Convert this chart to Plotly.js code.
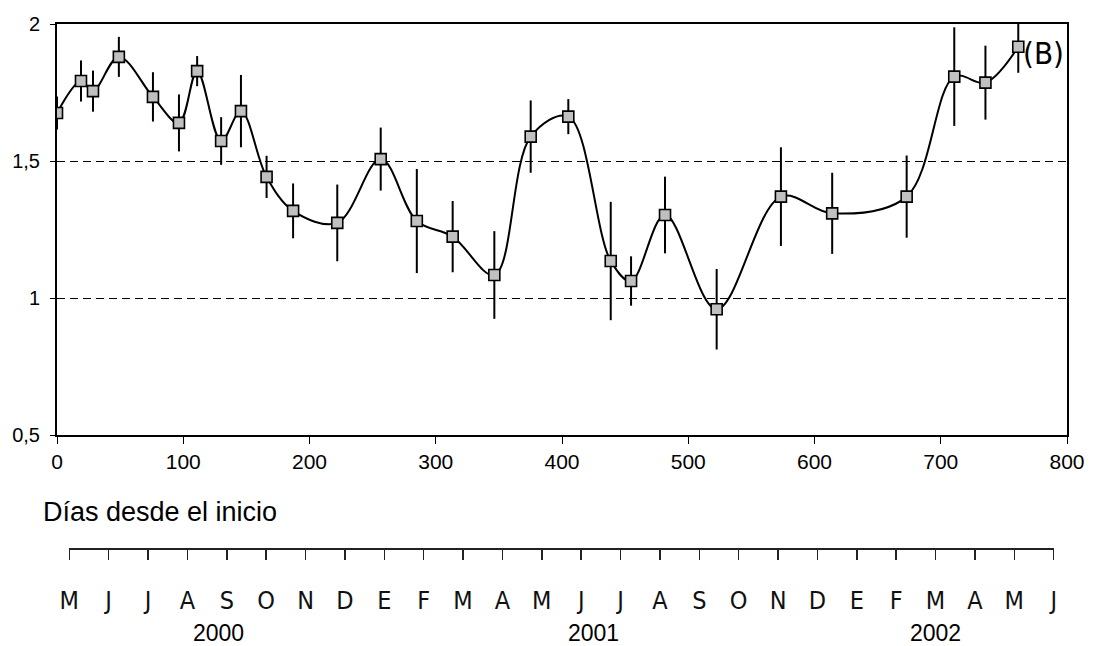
<!DOCTYPE html>
<html>
<head>
<meta charset="utf-8">
<script src="https://cdn.plot.ly/plotly-3.0.1.min.js"></script>
<style>html,body{margin:0;padding:0;background:#fff;}#chart{width:1093px;height:646px;}</style>
</head>
<body>
<div id="chart"></div>
<script>
// Days since start
var days = [0, 19, 28.5, 49, 76, 96.6, 111, 130, 145.7, 166, 187, 222, 256.4, 285, 313.4, 346.4, 375.2, 405, 438.6, 454.7, 481.6, 522.5, 573.4, 614, 673, 710.7, 735.4, 761.4];
// Measured values
var values = [1.675, 1.792, 1.755, 1.880, 1.734, 1.639, 1.828, 1.573, 1.682, 1.442, 1.318, 1.274, 1.507, 1.281, 1.224, 1.084, 1.589, 1.662, 1.135, 1.062, 1.303, 0.959, 1.370, 1.309, 1.370, 1.808, 1.786, 1.917];
// Error (+/-)
var errors = [0.06, 0.075, 0.075, 0.073, 0.09, 0.104, 0.055, 0.087, 0.132, 0.077, 0.10, 0.14, 0.115, 0.19, 0.13, 0.16, 0.132, 0.064, 0.216, 0.09, 0.14, 0.147, 0.18, 0.148, 0.15, 0.18, 0.135, 0.095];

var xTickVals = [0, 100, 200, 300, 400, 500, 600, 700, 800];
var yTickVals = [0.5, 1, 1.5, 2];

var monthLabels = ['M','J','J','A','S','O','N','D','E','F','M','A','M','J','J','A','S','O','N','D','E','F','M','A','M','J'];
var monthIndex = monthLabels.map(function(_, i){ return i; });
var yearLabels = ['2000', '2001', '2002'];
var yearPos = [3.8, 13.3, 22.0];

var panelLabel = '(B)';
var xTitle = 'Días desde el inicio';

var FONT = 'Liberation Sans, Arial, sans-serif';
var NARROW = 'DejaVu Sans Condensed, Liberation Sans, sans-serif';

var traces = [
  {
    x: days, y: values, type: 'scatter', mode: 'lines',
    line: {color: '#000', width: 2, shape: 'spline', smoothing: 1},
    hoverinfo: 'skip', showlegend: false
  },
  {
    x: days, y: values, type: 'scatter', mode: 'markers',
    marker: {symbol: 'square', size: 11, color: '#c0c0c0', line: {color: '#000', width: 1.6}},
    error_y: {type: 'data', array: errors, visible: true, color: '#000', thickness: 2, width: 0},
    showlegend: false
  },
  {
    x: monthIndex, y: monthIndex.map(function(){ return 0; }), xaxis: 'x2', yaxis: 'y2',
    type: 'scatter', mode: 'none', hoverinfo: 'skip', showlegend: false
  }
];

// Layout geometry (pixels) -> paper fractions
var W = 1093, H = 646;
var mL = 57, mR = 26, mT = 24, mB = 98;
var plotW = W - mL - mR, plotH = H - mT - mB;   // 1010 x 524
var mainBottomPx = 435;
var yDomLo = (H - mB - mainBottomPx) / plotH;

var layout = {
  width: W, height: H,
  margin: {l: mL, r: mR, t: mT, b: mB, pad: 0},
  paper_bgcolor: '#fff', plot_bgcolor: '#fff',
  separators: ',.',
  font: {family: FONT, color: '#000'},
  showlegend: false,
  xaxis: {
    range: [0, 800], domain: [0, 1], anchor: 'y',
    tickvals: xTickVals, ticks: 'outside', ticklen: 7, tickwidth: 1, tickcolor: '#000',
    showline: true, linecolor: '#000', linewidth: 2, mirror: true,
    showgrid: false, zeroline: false,
    tickfont: {family: FONT, size: 21, color: '#000'},
    ticklabelstandoff: 0
  },
  yaxis: {
    range: [0.5, 2], domain: [yDomLo, 1], anchor: 'x',
    tickvals: yTickVals, ticks: 'outside', ticklen: 5, tickwidth: 1, tickcolor: '#000',
    showline: true, linecolor: '#000', linewidth: 2, mirror: true,
    showgrid: true, gridcolor: '#000', gridwidth: 1, griddash: '8px,5px',
    zeroline: false,
    tickfont: {family: FONT, size: 20, color: '#000'},
    ticklabelstandoff: 6
  },
  xaxis2: {
    range: [0, 25], domain: [(69.3 - mL) / plotW, (1053.7 - mL) / plotW], anchor: 'y2',
    tickvals: monthIndex, ticktext: monthLabels,
    ticks: 'outside', ticklen: 10, tickwidth: 1.5, tickcolor: '#222',
    showline: true, linecolor: '#222', linewidth: 1.5,
    showgrid: false, zeroline: false,
    tickfont: {family: NARROW, size: 25, color: '#111', weight: 300},
    ticklabelstandoff: 19
  },
  yaxis2: {
    domain: [0, 0.01], anchor: 'x2', visible: false, range: [0, 1]
  },
  annotations: [
    {
      xref: 'paper', yref: 'paper', x: (41 - mL) / plotW, y: (H - mB - 512) / plotH,
      xanchor: 'left', yanchor: 'middle', showarrow: false,
      text: xTitle, font: {family: FONT, size: 27, color: '#000'}
    },
    {
      xref: 'paper', yref: 'paper', x: (1043 - mL) / plotW, y: (H - mB - 53) / plotH,
      xanchor: 'center', yanchor: 'middle', showarrow: false,
      text: panelLabel, font: {family: 'DejaVu Sans Condensed, DejaVu Sans, sans-serif', size: 31, color: '#000'}
    }
  ].concat(yearLabels.map(function(t, i){
    return {
      xref: 'x2', yref: 'paper', x: yearPos[i], y: (H - mB - 633) / plotH,
      xanchor: 'center', yanchor: 'middle', showarrow: false,
      text: t, font: {family: FONT, size: 23, color: '#000'}
    };
  }))
};

Plotly.newPlot('chart', traces, layout, {displayModeBar: false, staticPlot: true});
</script>
</body>
</html>
